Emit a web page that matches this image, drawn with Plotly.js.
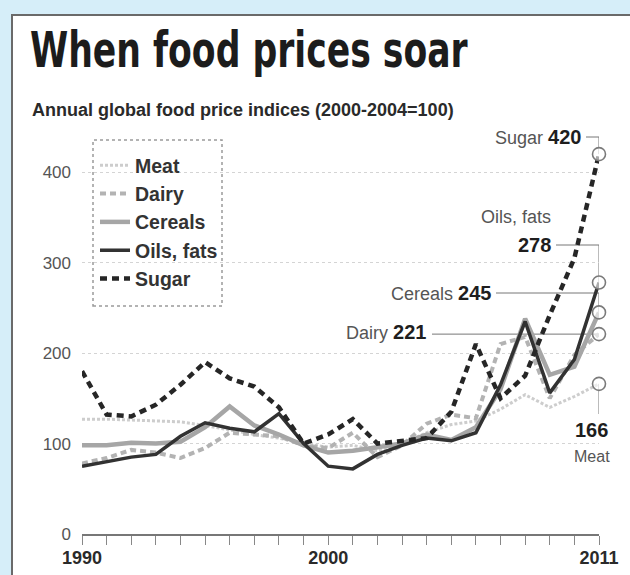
<!DOCTYPE html>
<html><head><meta charset="utf-8">
<script src="https://cdn.plot.ly/plotly-3.0.1.min.js"></script>
<style>
html,body{margin:0;padding:0;background:#d6eef9;width:630px;height:575px;overflow:hidden}
#frame{position:absolute;left:11px;top:14px;width:617px;height:559px;background:#fff;border-left:2px solid #6a6a6a;border-top:2px solid #6a6a6a;}
#chart{width:617px;height:559px}
</style></head><body><div id="frame"><div id="chart"></div></div>
<script>
// ---- data ----
const years  = [1990,1991,1992,1993,1994,1995,1996,1997,1998,1999,2000,2001,2002,2003,2004,2005,2006,2007,2008,2009,2010,2011];
const meat   = [127,127,126,125,124,120,115,110,106,100, 96, 98, 92,100,112,121,125,138,154,140,152,166];
const dairy  = [ 78, 84, 93, 90, 84, 95,112,110,108, 98, 95,112, 85, 98,122,132,128,210,218,150,198,221];
const cereals= [ 98, 98,101,100,102,118,141,120,110, 98, 90, 92, 96,100,110,104,118,160,238,176,185,245];
const oils   = [ 75, 80, 85, 88,108,123,117,113,133,100, 75, 72, 88, 98,106,103,112,165,235,156,193,278];
const sugar  = [180,132,130,143,165,190,172,163,140,100,110,127,100,103,106,135,210,150,175,242,305,420];
const seriesNames = ['Meat','Dairy','Cereals','Oils, fats','Sugar'];
const xTickLabels = ['1990','','','','','','','','','','2000','','','','','','','','','','','2011'];
const yTickVals = [0,100,200,300,400];

// ---- helpers: page pixel -> data coords (for label placement only) ----
const OX=13, OY=16, W=617, H=559;          // chart div origin / size on the page
const X0=82, X1=599, Y0=534, PH=407, YMAX=450;
const px2x = p => 1990 + (p - X0) * 21 / (X1 - X0);
const py2y = p => (Y0 - p) * YMAX / PH;
const last = a => a[a.length-1];

const styles = [
  {color:'#cdcdcd', width:3,   dash:'3px,2px'},
  {color:'#b3b3b3', width:4,   dash:'6px,4px'},
  {color:'#a6a6a6', width:4.5, dash:'solid'},
  {color:'#323232', width:3.5, dash:'solid'},
  {color:'#262626', width:4.5, dash:'7px,5px'}
];
const allSeries = [meat,dairy,cereals,oils,sugar];
const traces = allSeries.map((s,i)=>({
  x: years, y: s, name: seriesNames[i], type:'scatter', mode:'lines',
  line: Object.assign({shape:'linear'}, styles[i]), cliponaxis:false, hoverinfo:'skip'
}));
traces.push({
  x: allSeries.map(()=>last(years)), y: allSeries.map(last), type:'scatter', mode:'markers',
  showlegend:false, cliponaxis:false, hoverinfo:'skip',
  marker:{symbol:'circle', size:13, color:'rgba(255,255,255,0.6)', line:{color:'#7a7a7a', width:1.6}}
});

const lbl = 'Liberation Sans, Arial, sans-serif';
const num = (v)=>'<span style="font-size:20px;color:#1e1e1e"><b>'+v+'</b></span>';
const lx = last(years);
const annotations = [
  {x:px2x(583), y:py2y(137), xanchor:'right', yanchor:'middle', text:'Sugar '+num(last(sugar))},
  {x:px2x(553), y:py2y(217), xanchor:'right', yanchor:'middle', text:'Oils, fats'},
  {x:px2x(553), y:py2y(245), xanchor:'right', yanchor:'middle', text:num(last(oils))},
  {x:px2x(493), y:py2y(293), xanchor:'right', yanchor:'middle', text:'Cereals '+num(last(cereals))},
  {x:px2x(428), y:py2y(332), xanchor:'right', yanchor:'middle', text:'Dairy '+num(last(dairy))},
  {x:px2x(591), y:py2y(430), xanchor:'center', yanchor:'middle', text:num(last(meat))},
  {x:px2x(592), y:py2y(456), xanchor:'center', yanchor:'middle', text:'Meat', font:{family:lbl,size:16,color:'#555'}}
].map(a=>Object.assign({xref:'x', yref:'y', showarrow:false, font:{family:lbl, size:18, color:'#555'}}, a));
annotations.push({
  xref:'paper', yref:'paper', x:(30-X0)/(X1-X0), y:1+(127-110)/PH, xanchor:'left', yanchor:'middle',
  showarrow:false, text:'<b>Annual global food price indices (2000-2004=100)</b>',
  font:{family:lbl, size:18, color:'#2a2a2a'}
});

const lc = {color:'#777', width:1};
const shapes = [
  {type:'path', path:`M ${px2x(586)},${py2y(137)} H ${lx} V ${last(sugar)}`},
  {type:'path', path:`M ${px2x(556)},${py2y(245)} H ${lx} V ${last(oils)}`},
  {type:'path', path:`M ${px2x(496)},${py2y(293)} H ${lx} V ${last(cereals)}`},
  {type:'path', path:`M ${px2x(432)},${last(dairy)} H ${lx}`},
  {type:'path', path:`M ${lx},${last(meat)} V ${py2y(414)}`}
].map(s=>Object.assign({xref:'x', yref:'y', layer:'below', line:lc}, s));
shapes.push({type:'rect', xref:'paper', yref:'paper',
  x0:(93-X0)/(X1-X0), x1:(222-X0)/(X1-X0), y0:1-(306-127)/PH, y1:1-(140-127)/PH,
  line:{color:'#9a9a9a', width:1.5, dash:'dot'}, layer:'below'});

const layout = {
  width:W, height:H,
  margin:{l:X0-OX, r:W-(X1-OX), t:(Y0-PH)-OY, b:H-(Y0-OY)},
  paper_bgcolor:'#ffffff', plot_bgcolor:'#ffffff',
  title:{text:'<b>When food prices soar</b>', xref:'container', yref:'container',
    x:(30-OX)/W, xanchor:'left', y:1-(50-OY)/H, yanchor:'middle',
    font:{family:'DejaVu Sans Condensed, DejaVu Sans, sans-serif', size:49, color:'#1c1c1c'}},
  showlegend:true,
  legend:{x:(95-X0)/(X1-X0), y:1-(146-127)/PH, xanchor:'left', yanchor:'top',
    bgcolor:'rgba(0,0,0,0)', borderwidth:0, itemwidth:30, tracegroupgap:0,
    font:{family:lbl, size:19.5, color:'#333', weight:'bold'}},
  xaxis:{range:[1990,2011], tickmode:'array', tickvals:years, ticktext:xTickLabels,
    ticks:'outside', ticklen:9, tickwidth:1, tickcolor:'#888',
    showline:true, linecolor:'#777', linewidth:2, showgrid:false, zeroline:false,
    tickfont:{family:lbl, size:18, color:'#2a2a2a', weight:'bold'}, ticklabelstandoff:-3},
  yaxis:{range:[0,YMAX], tickmode:'array', tickvals:yTickVals, ticks:'', showline:false, zeroline:false,
    showgrid:true, gridcolor:'#d4d4d4', griddash:'dot', gridwidth:1,
    tickfont:{family:lbl, size:17, color:'#555'}, ticklabelstandoff:10},
  annotations, shapes
};
Plotly.newPlot('chart', traces, layout, {staticPlot:true, displayModeBar:false}).then(gd=>{
  // condense the headline horizontally to match the narrow newspaper typeface
  const t = gd.querySelector('.gtitle');
  if (t) {
    const bb = t.getBBox();
    const target = 438;                    // desired headline width in px
    const s = Math.min(1, target / bb.width);
    const x = bb.x;
    const prev = t.getAttribute('transform') || '';
    t.setAttribute('transform', `translate(${x},0) scale(${s},1) translate(${-x},0) ${prev}`);
  }
});
</script></body></html>
